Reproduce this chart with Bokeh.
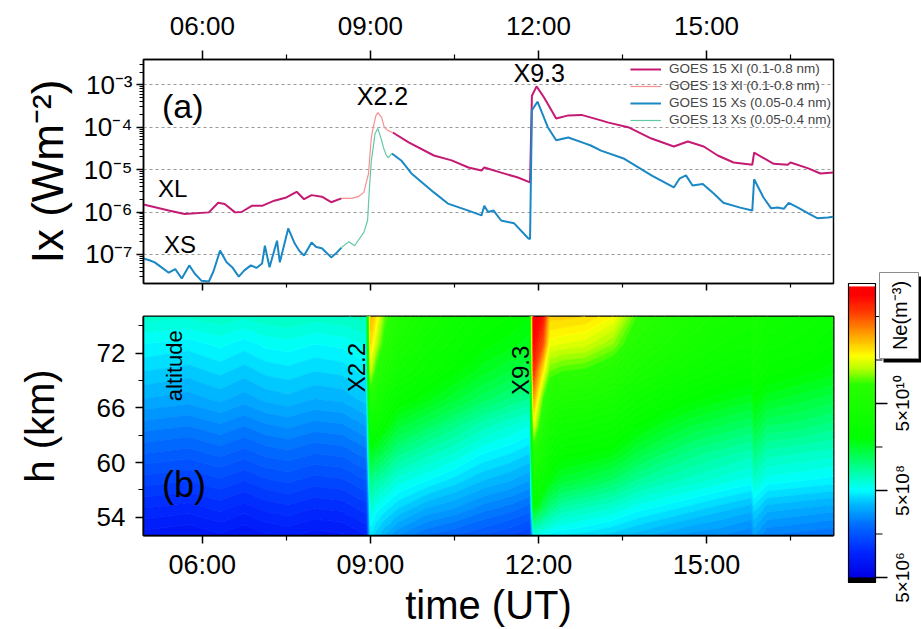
import math
import numpy as np
from bokeh.plotting import figure
from bokeh.layouts import row, column
from bokeh.models import Range1d, LinearAxis, FixedTicker, CustomJSTickFormatter, LinearColorMapper
from bokeh.core.properties import value
from bokeh.embed import file_html
from bokeh.resources import INLINE

FONT = "Liberation Sans"

# ---------------- data: GOES X-ray flux (W m^-2) ----------------
xl15_time = ["04:57", "05:24", "05:41", "06:07", "06:17", "06:24", "06:35", "06:42", "06:53",
             "07:04", "07:17", "07:30", "07:41", "07:49", "07:57", "08:08", "08:18", "08:29",
             "09:00",
             "09:24", "09:41", "10:08", "10:27", "10:45", "10:59", "11:02", "11:20", "11:38",
             "11:51", "11:53", "11:58", "12:06", "12:19", "12:32", "12:46", "13:07", "13:14",
             "13:36", "14:01", "14:25", "14:40", "14:57", "15:12", "15:29", "15:49", "15:51",
             "16:12", "16:27", "16:30", "16:49", "17:02", "17:16"]
xl15_flux = [1.5e-6, 1.08e-6, 9.0e-7, 9.8e-7, 1.65e-6, 1.55e-6, 9.8e-7, 1.0e-6, 1.4e-6,
             1.4e-6, 1.85e-6, 2.2e-6, 3.0e-6, 2.0e-6, 2.5e-6, 2.3e-6, 1.7e-6, 2.1e-6,
             None,
             7.5e-5, 4.4e-5, 2.15e-5, 1.65e-5, 1.12e-5, 9.5e-6, 1.12e-5, 8.5e-6, 6.5e-6,
             5.0e-6, 5.5e-4, 9.2e-4, 5.0e-4, 1.6e-4, 1.9e-4, 1.95e-4, 1.45e-4, 1.3e-4,
             1.0e-4, 5.4e-5, 3.5e-5, 4.6e-5, 3.5e-5, 2.15e-5, 1.47e-5, 1.3e-5, 2.5e-5,
             1.37e-5, 1.3e-5, 1.47e-5, 1.07e-5, 8.1e-6, 8.5e-6]

xl13_time = ["08:29", "08:40", "08:47", "08:53", "08:58", "08:59", "09:01", "09:03", "09:06",
             "09:08", "09:12", "09:15", "09:19", "09:24"]
xl13_flux = [2.1e-6, 2.1e-6, 2.3e-6, 2.9e-6, 8.0e-6, 1.6e-5, 5.7e-5, 9.8e-5, 1.9e-4,
             2.2e-4, 1.7e-4, 9.8e-5, 8.3e-5, 7.5e-5]

xs15_time = ["04:57", "05:04", "05:09", "05:16", "05:24", "05:31", "05:38", "05:46", "05:52",
             "05:59", "06:07", "06:12", "06:19", "06:26", "06:32", "06:39", "06:45", "06:52",
             "06:58", "07:04", "07:07", "07:12", "07:20", "07:23", "07:32", "07:39",
             "07:44", "07:49", "07:57", "08:02", "08:08", "08:13", "08:18", "08:24", "08:29",
             "09:00",
             "09:23", "09:33", "09:44", "10:08", "10:23", "10:45", "10:59", "11:02", "11:06",
             "11:12", "11:20", "11:34", "11:49", "11:51", "11:53", "11:59", "12:10", "12:19",
             "12:32", "12:49", "12:56", "13:07", "13:32", "14:01", "14:25", "14:31", "14:38",
             "14:45", "14:56", "15:08", "15:18", "15:36", "15:49", "15:51", "16:01", "16:09",
             "16:16", "16:23", "16:28", "16:38", "16:49", "16:59", "17:10", "17:16"]
xs15_flux = [8.0e-8, 7.2e-8, 6.5e-8, 5.0e-8, 3.7e-8, 4.5e-8, 2.7e-8, 5.5e-8, 3.5e-8,
             2.4e-8, 2.3e-8, 4.0e-8, 1.23e-7, 6.5e-8, 5.0e-8, 3.0e-8, 4.2e-8, 5.5e-8,
             4.8e-8, 6.1e-8, 1.6e-7, 5.0e-8, 2.1e-7, 6.5e-8, 4.1e-7, 1.8e-7,
             1.2e-7, 9.4e-8, 1.9e-7, 1.5e-7, 1.4e-7, 1.1e-7, 8.5e-8, 1.1e-7, 1.45e-7,
             None,
             2.4e-5, 1.64e-5, 8.1e-6, 2.9e-6, 1.58e-6, 1.08e-6, 8.3e-7, 1.4e-6, 1.0e-6,
             1.08e-6, 6.3e-7, 5.4e-7, 2.4e-7, 2.3e-7, 2.5e-4, 4.0e-4, 1.0e-4, 4.9e-5,
             5.7e-5, 4.2e-5, 3.7e-5, 2.8e-5, 1.8e-5, 7.3e-6, 3.8e-6, 6.1e-6, 7.3e-6,
             4.2e-6, 4.6e-6, 2.7e-6, 1.65e-6, 1.27e-6, 1.08e-6, 5.9e-6, 2.2e-6, 1.23e-6,
             1.27e-6, 1.2e-6, 1.65e-6, 1.27e-6, 9.3e-7, 7.1e-7, 7.4e-7, 7.7e-7]

xs13_time = ["08:29", "08:37", "08:43", "08:53", "08:57", "08:59", "09:01", "09:03", "09:05",
             "09:08", "09:12", "09:14", "09:17", "09:19", "09:23"]
xs13_flux = [1.45e-7, 2.0e-7, 1.6e-7, 3.3e-7, 6.3e-7, 3.8e-6, 1.6e-5, 3.3e-5, 7.1e-5,
             9.3e-5, 4.9e-5, 3.3e-5, 2.2e-5, 1.9e-5, 2.4e-5]

legend_labels = ["GOES 15 Xl (0.1-0.8 nm)", "GOES 13 Xl (0.1-0.8 nm)",
                 "GOES 15 Xs (0.05-0.4 nm)", "GOES 13 Xs (0.05-0.4 nm)"]

# ---------------- data: electron density, log10(Ne / m^-3) ----------------
alt_km = [52, 55, 58, 61, 64, 67, 70, 73, 76]
ne_time = ["04:57", "05:45", "06:19", "06:45", "07:08", "07:32", "08:00", "08:30", "08:56",
           "09:00", "09:06", "09:15", "09:30", "10:00", "10:30", "11:00", "11:30", "11:51",
           "11:55", "12:05", "12:12", "12:25", "12:50", "13:20", "13:45", "14:15", "14:45",
           "15:15", "15:48", "15:51", "16:05", "16:40", "17:16"]
ne_log10 = [
    [7.05, 7.30, 7.55, 7.80, 8.05, 8.30, 8.50, 8.70, 8.95],
    [7.00, 7.25, 7.50, 7.75, 8.00, 8.25, 8.45, 8.65, 8.92],
    [7.08, 7.33, 7.58, 7.83, 8.08, 8.33, 8.53, 8.73, 8.98],
    [7.00, 7.25, 7.50, 7.75, 8.00, 8.25, 8.45, 8.65, 8.92],
    [7.08, 7.33, 7.58, 7.83, 8.08, 8.33, 8.53, 8.73, 8.98],
    [7.12, 7.37, 7.62, 7.87, 8.12, 8.37, 8.56, 8.76, 9.00],
    [7.05, 7.30, 7.55, 7.80, 8.05, 8.30, 8.50, 8.70, 8.95],
    [7.08, 7.33, 7.58, 7.83, 8.08, 8.33, 8.53, 8.73, 8.98],
    [7.20, 7.45, 7.70, 7.95, 8.20, 8.45, 8.65, 8.82, 9.05],
    [8.60, 8.90, 9.30, 9.80, 10.30, 10.90, 11.60, 12.00, 12.20],
    [8.45, 8.75, 9.15, 9.65, 10.15, 10.60, 11.10, 11.60, 11.95],
    [8.30, 8.65, 9.05, 9.50, 9.95, 10.35, 10.75, 11.05, 11.30],
    [8.10, 8.50, 8.85, 9.25, 9.65, 10.05, 10.40, 10.65, 10.85],
    [7.90, 8.30, 8.70, 9.05, 9.45, 9.85, 10.15, 10.35, 10.50],
    [7.80, 8.20, 8.55, 8.90, 9.25, 9.65, 9.95, 10.15, 10.30],
    [7.70, 8.05, 8.40, 8.70, 9.05, 9.45, 9.75, 9.95, 10.10],
    [7.60, 7.95, 8.30, 8.60, 8.90, 9.30, 9.60, 9.85, 10.00],
    [7.50, 7.85, 8.20, 8.50, 8.80, 9.20, 9.50, 9.75, 9.90],
    [8.80, 9.90, 10.40, 10.90, 11.70, 12.30, 12.90, 13.20, 13.35],
    [8.70, 9.50, 10.10, 10.50, 10.80, 11.20, 11.90, 12.70, 13.10],
    [8.65, 9.30, 9.85, 10.20, 10.50, 10.85, 11.30, 11.75, 12.05],
    [8.60, 9.10, 9.65, 10.00, 10.35, 10.75, 11.20, 11.70, 12.05],
    [8.55, 9.00, 9.55, 9.95, 10.30, 10.70, 11.15, 11.65, 12.00],
    [8.45, 8.90, 9.40, 9.85, 10.20, 10.55, 10.95, 11.40, 11.80],
    [8.35, 8.75, 9.20, 9.60, 9.95, 10.30, 10.65, 10.95, 11.20],
    [8.25, 8.65, 9.05, 9.40, 9.75, 10.10, 10.45, 10.70, 10.90],
    [8.15, 8.55, 8.95, 9.25, 9.60, 9.95, 10.30, 10.55, 10.70],
    [8.10, 8.45, 8.85, 9.15, 9.50, 9.85, 10.15, 10.40, 10.55],
    [8.00, 8.35, 8.75, 9.05, 9.40, 9.75, 10.05, 10.30, 10.45],
    [8.20, 8.55, 8.95, 9.30, 9.65, 9.95, 10.25, 10.45, 10.55],
    [8.00, 8.35, 8.75, 9.05, 9.40, 9.75, 10.05, 10.25, 10.40],
    [7.95, 8.30, 8.70, 9.00, 9.35, 9.65, 9.95, 10.15, 10.30],
    [7.90, 8.25, 8.65, 8.95, 9.25, 9.55, 9.85, 10.00, 10.15],
]

# tick values
time_major = [6, 9, 12, 15]
time_minor = [7.5, 10.5, 13.5, 16.5]
flux_major = [1e-7, 1e-6, 1e-5, 1e-4, 1e-3]
alt_major = [54, 60, 66, 72]
alt_minor = [57, 63, 69, 75]
ne_major = [5e6, 5e8, 5e10]
ne_major_labels = ["5\u00d710\u2076", "5\u00d710\u2078", "5\u00d710\u00b9\u2070"]
ne_minor = [5e7, 5e9, 5e11, 5e12]
ne_low, ne_high = 5e6, 2.45e13   # ends of the colour scale (black below, white above)

# colour scale of the density map (log10 Ne -> colour)
cb_stops = [6.70, 7.30, 7.90, 8.40, 8.70, 9.10, 9.50, 9.90, 11.15, 11.50, 11.80, 12.30, 12.80, 13.20, 13.39]
cb_colors = ["#0000e6", "#0028ff", "#006eff", "#00beff", "#00ffff", "#00ffaa", "#00ff50", "#00ff00",
             "#28ff00", "#b4ff00", "#ffff00", "#ffa000", "#ff3c00", "#ff0000", "#ff0000"]

C_XL15 = "#c41a74"
C_XL13 = "#f59090"
C_XS15 = "#1a88c4"
C_XS13 = "#62c9a4"


def hours(ts):
    return np.array([int(t[:2]) + int(t[3:]) / 60.0 for t in ts])


def ne_color(v):
    chans = []
    for k in (1, 3, 5):
        ch = [int(c[k:k + 2], 16) for c in cb_colors]
        chans.append(int(round(float(np.interp(v, cb_stops, ch)))))
    return "#%02x%02x%02x" % tuple(chans)


TIME_FMT = CustomJSTickFormatter(code="""
const h = Math.floor(tick + 1e-6); const m = Math.round((tick - h) * 60);
return (h < 10 ? "0" : "") + h + ":" + (m < 10 ? "0" : "") + m;
""")
POW_FMT = CustomJSTickFormatter(code="""
const sup = {"-": "\u207b", "0": "\u2070", "1": "\u00b9", "2": "\u00b2", "3": "\u00b3", "4": "\u2074",
             "5": "\u2075", "6": "\u2076", "7": "\u2077", "8": "\u2078", "9": "\u2079"};
const e = Math.round(Math.log10(tick));
return "10" + String(e).split("").map(c => sup[c]).join("");
""")


def style_axis(ax, label_size, tick_out=8, minor_out=4):
    ax.axis_line_color = "black"
    ax.axis_line_width = 1.5
    ax.major_tick_line_color = "black"
    ax.major_tick_line_width = 1.5
    ax.major_tick_in = 0
    ax.major_tick_out = tick_out
    ax.minor_tick_line_color = "black"
    ax.minor_tick_line_width = 1.2
    ax.minor_tick_in = 0
    ax.minor_tick_out = minor_out
    ax.major_label_text_font = FONT
    ax.major_label_text_font_size = label_size
    ax.major_label_text_color = "black"
    ax.axis_label_text_font = FONT
    ax.axis_label_text_font_style = "normal"
    ax.axis_label_text_color = "black"


x0 = hours(["04:57"])[0]
x1 = hours(["17:16"])[0]

# ================= panel (a) =================
pa = figure(width=843, height=300, x_range=Range1d(x0, x1), y_range=Range1d(2.06e-8, 3.95e-3),
            y_axis_type="log", x_axis_location="above", output_backend="svg",
            toolbar_location=None, min_border_left=143, min_border_right=10,
            min_border_top=59, min_border_bottom=17)
pa.outline_line_color = "black"
pa.outline_line_width = 1.5
pa.xgrid.visible = False

pa.xaxis.ticker = FixedTicker(ticks=time_major, minor_ticks=time_minor)
pa.xaxis.formatter = TIME_FMT
style_axis(pa.xaxis[0], "26px", tick_out=9, minor_out=5)
pa.xaxis.major_label_standoff = 10

bot = LinearAxis(ticker=FixedTicker(ticks=time_major, minor_ticks=time_minor),
                 major_label_overrides={6: "", 9: "", 12: "", 15: ""}, major_label_standoff=0)
style_axis(bot, "10px", tick_out=7, minor_out=4)
pa.add_layout(bot, "below")

flux_minor = [k * 10.0 ** e for e in range(-8, -2) for k in range(2, 10)
              if 2.06e-8 <= k * 10.0 ** e <= 3.95e-3]
yt = FixedTicker(ticks=flux_major, minor_ticks=flux_minor)
pa.yaxis.ticker = yt
pa.ygrid.ticker = yt
pa.yaxis.formatter = POW_FMT
style_axis(pa.yaxis[0], "26px", tick_out=7, minor_out=4)
pa.yaxis.major_label_standoff = 4
pa.yaxis.axis_label = "Ix (Wm\u207b\u00b2)"
pa.yaxis.axis_label_text_font_size = "44px"
pa.yaxis.axis_label_standoff = 8
pa.ygrid.grid_line_color = "#9a9a9a"
pa.ygrid.grid_line_dash = "3 3"
pa.ygrid.grid_line_width = 1


def fl(v):
    return np.array([np.nan if a is None else a for a in v], dtype=float)


pa.line(hours(xl15_time), fl(xl15_flux), color=C_XL15, line_width=2, legend_label=legend_labels[0])
pa.line(hours(xl13_time), fl(xl13_flux), color=C_XL13, line_width=1.2, legend_label=legend_labels[1])
pa.line(hours(xs15_time), fl(xs15_flux), color=C_XS15, line_width=2, legend_label=legend_labels[2])
pa.line(hours(xs13_time), fl(xs13_flux), color=C_XS13, line_width=1.2, legend_label=legend_labels[3])

lg = pa.legend[0]
lg.location = "top_right"
lg.margin = 2
lg.padding = 2
lg.spacing = 2
lg.border_line_color = None
lg.background_fill_alpha = 0
lg.label_text_font = FONT
lg.label_text_font_size = "13.5px"
lg.label_height = 14
lg.glyph_height = 14
lg.glyph_width = 31
lg.label_standoff = 8

pa.text(x=[5.28], y=[3.2e-4], text=["(a)"], text_font=value(FONT), text_font_size=value("34px"),
        text_align="left", text_baseline="middle", color="black")
pa.text(x=[9.215, 12.014], y=[5.3e-4, 1.85e-3], text=["X2.2", "X9.3"], text_font=value(FONT),
        text_font_size=value("25px"), text_align="center", text_baseline="middle", color="black")
pa.text(x=[5.47, 5.60], y=[3.6e-6, 1.7e-7], text=["XL", "XS"], text_font=value(FONT),
        text_font_size=value("24px"), text_align="center", text_baseline="middle", color="black")

# ================= panel (b) =================
pb = figure(width=843, height=329, x_range=Range1d(x0, x1), y_range=Range1d(52, 76),
            output_backend="svg", toolbar_location=None, min_border_left=143,
            min_border_right=10, min_border_top=16, min_border_bottom=90)
pb.outline_line_color = "black"
pb.outline_line_width = 2
pb.grid.visible = False

levels = np.round(np.arange(6.6, 13.45, 0.1), 3)
band_colors = [ne_color(0.5 * (a + b)) for a, b in zip(levels[:-1], levels[1:])]
level_colors = [ne_color(v) for v in levels]
pb.contour(x=hours(ne_time), y=np.array(alt_km, dtype=float), z=np.array(ne_log10).T,
           levels=list(levels), fill_color=band_colors, line_color=level_colors, line_width=1)

pb.xaxis.ticker = FixedTicker(ticks=time_major, minor_ticks=time_minor)
pb.xaxis.formatter = TIME_FMT
style_axis(pb.xaxis[0], "27px", tick_out=8, minor_out=5)
pb.xaxis.major_label_standoff = 6
pb.xaxis.axis_label = "time (UT)"
pb.xaxis.axis_label_text_font_size = "40px"
pb.xaxis.axis_label_standoff = 0

pb.yaxis.ticker = FixedTicker(ticks=alt_major, minor_ticks=alt_minor)
style_axis(pb.yaxis[0], "26px", tick_out=8, minor_out=5)
pb.yaxis.major_label_standoff = 10
pb.yaxis.axis_label = "h (km)"
pb.yaxis.axis_label_text_font_size = "40px"
pb.yaxis.axis_label_standoff = 32

pb.text(x=[5.51], y=[70.6], text=["altitude"], angle=math.pi / 2, text_font=value(FONT),
        text_font_size=value("22px"), text_align="center", text_baseline="middle", color="black")
pb.text(x=[5.28], y=[57.6], text=["(b)"], text_font=value(FONT), text_font_size=value("36px"),
        text_align="left", text_baseline="middle", color="black")
pb.text(x=[8.75, 11.68], y=[70.4, 70.1], text=["X2.2", "X9.3"], angle=math.pi / 2,
        text_font=value(FONT), text_font_size=value("24px"), text_align="center",
        text_baseline="middle", color="black")

# ================= colour bar (own small plot, y in log10 Ne) =================
PX_PER_DEC = 43.5
y_base_px = 577.0          # pixel row of the 5e6 tick


def v_at(py):
    return math.log10(5e6) + (y_base_px - py) / PX_PER_DEC


pc = figure(width=78, height=629, x_range=Range1d(843, 921), y_range=Range1d(v_at(629), v_at(0)),
            x_axis_location=None, y_axis_location=None, output_backend="svg",
            toolbar_location=None, min_border=0, min_border_left=0, min_border_right=0,
            min_border_top=0, min_border_bottom=0)
pc.grid.visible = False
pc.outline_line_color = None

lo, hi = math.log10(ne_low), math.log10(ne_high)
cb_lo, cb_hi = lo - 5 / PX_PER_DEC, hi + 3 / PX_PER_DEC
mapper = LinearColorMapper(palette=[ne_color(v) for v in np.linspace(lo, hi, 256)],
                           low=lo, high=hi, low_color="black", high_color="white")
grad = np.linspace(cb_lo, cb_hi, 600).reshape(-1, 1)
pc.image(image=[grad], x=848, y=cb_lo, dw=27, dh=cb_hi - cb_lo, color_mapper=mapper)
pc.quad(left=[848], right=[875], bottom=[cb_lo], top=[cb_hi], fill_color=None,
        line_color="black", line_width=1.2)
maj = [math.log10(v) for v in ne_major]
mnr = [math.log10(v) for v in ne_minor]
pc.segment(x0=[875] * 3, x1=[887] * 3, y0=maj, y1=maj, line_color="black", line_width=1.5)
pc.segment(x0=[875] * 4, x1=[882] * 4, y0=mnr, y1=mnr, line_color="black", line_width=1.2)
pc.text(x=[902] * 3, y=maj, text=ne_major_labels, angle=math.pi / 2, text_font=value(FONT),
        text_font_size=value("19px"), text_align="center", text_baseline="middle", color="black")

# "Ne(m^-3)" boxed title with shadow
pc.quad(left=[883], right=[922], bottom=[v_at(362)], top=[v_at(276)], fill_color="black",
        line_color=None)
pc.quad(left=[879], right=[918], bottom=[v_at(358)], top=[v_at(272)], fill_color="white",
        line_color="#8c8c8c", line_width=1)
pc.text(x=[899], y=[v_at(315)], text=["Ne(m\u207b\u00b3)"], angle=math.pi / 2,
        text_font=value(FONT), text_font_size=value("20px"), text_align="center",
        text_baseline="middle", color="black")

layout = row(column(pa, pb), pc)
open("out.html", "w").write(file_html(layout, INLINE))
